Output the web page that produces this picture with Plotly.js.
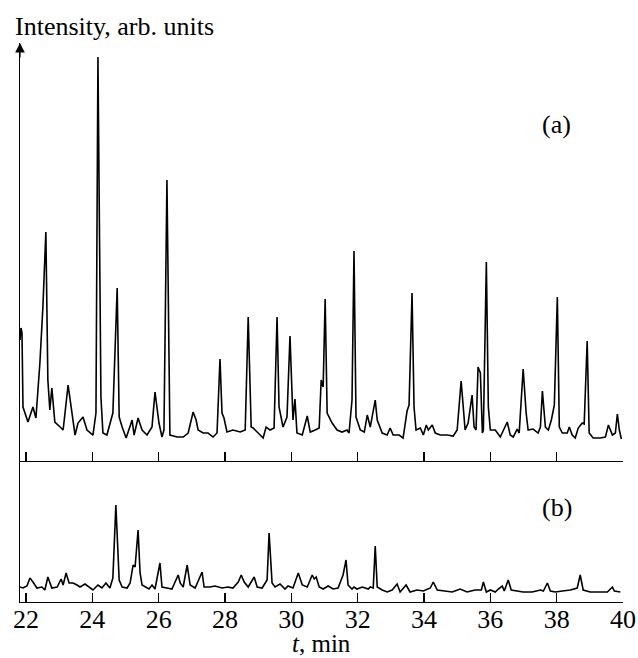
<!DOCTYPE html>
<html>
<head>
<meta charset="utf-8">
<script src="https://cdn.plot.ly/plotly-3.0.1.min.js"></script>
<style>html,body{margin:0;padding:0;background:#fff;}#chart{width:638px;height:658px;}</style>
</head>
<body>
<div id="chart"></div>
<script>
// Retention time (min) and intensity (arb. units) — trace (a)
const tA = [21.82,21.85,21.88,21.91,22.06,22.21,22.30,22.42,22.51,22.60,22.66,22.72,22.78,22.87,23.03,23.12,23.27,23.39,23.48,23.57,23.72,23.84,24.02,24.11,24.17,24.26,24.32,24.44,24.59,24.62,24.75,24.78,24.81,24.90,25.02,25.20,25.26,25.38,25.50,25.65,25.80,25.89,25.95,26.01,26.10,26.16,26.25,26.34,26.56,26.74,26.89,27.04,27.13,27.19,27.34,27.49,27.64,27.76,27.85,27.91,27.97,28.06,28.24,28.46,28.61,28.67,28.70,28.79,28.85,29.00,29.15,29.24,29.36,29.48,29.57,29.63,29.75,29.87,29.96,30.05,30.11,30.17,30.33,30.48,30.57,30.72,30.84,30.90,30.96,31.02,31.08,31.23,31.38,31.53,31.68,31.74,31.83,31.89,31.95,32.08,32.20,32.29,32.38,32.53,32.59,32.74,32.89,32.98,33.07,33.25,33.37,33.49,33.55,33.64,33.70,33.76,33.89,33.98,34.07,34.13,34.25,34.34,34.49,34.70,34.88,35.00,35.12,35.24,35.33,35.45,35.51,35.57,35.63,35.70,35.76,35.79,35.88,35.94,36.00,36.15,36.30,36.51,36.60,36.69,36.81,36.87,36.99,37.08,37.14,37.29,37.44,37.51,37.57,37.66,37.75,37.84,37.93,38.02,38.08,38.17,38.32,38.38,38.47,38.56,38.65,38.77,38.83,38.92,38.98,39.10,39.31,39.47,39.56,39.68,39.77,39.83,39.89,39.95];
const intensityA = [121,133,128,54,39,54,43,98,154,229,81,51,73,39,34,31,76,44,26,38,44,31,26,48,404,64,28,26,44,48,173,118,44,34,23,41,26,43,31,26,34,69,54,38,24,31,281,26,24,24,28,49,41,31,28,28,24,28,102,48,43,29,31,29,31,99,144,34,33,28,23,34,31,33,144,54,34,44,125,41,62,28,26,45,29,31,33,81,74,162,48,38,31,29,31,28,61,210,44,31,29,46,34,61,41,28,26,33,26,26,23,50,56,168,54,31,33,26,36,31,36,28,26,26,25,31,80,31,38,66,34,31,94,88,28,31,199,54,31,31,24,39,26,24,32,28,92,48,31,32,28,34,70,34,31,41,56,164,34,28,28,34,26,23,33,38,37,120,28,23,23,24,36,26,28,47,31,22];

// Trace (b)
const tB = [21.82,21.91,22.03,22.12,22.21,22.33,22.48,22.57,22.66,22.78,22.94,23.06,23.12,23.21,23.30,23.42,23.54,23.63,23.78,23.90,24.02,24.17,24.29,24.41,24.53,24.62,24.71,24.81,24.90,25.05,25.14,25.23,25.29,25.38,25.44,25.50,25.62,25.71,25.80,25.89,26.04,26.10,26.25,26.40,26.59,26.65,26.74,26.86,26.95,27.10,27.31,27.37,27.55,27.70,27.91,28.09,28.24,28.40,28.49,28.58,28.70,28.88,28.97,29.12,29.27,29.33,29.42,29.51,29.66,29.81,29.90,30.05,30.21,30.33,30.48,30.63,30.69,30.75,30.84,30.96,31.11,31.26,31.41,31.53,31.56,31.65,31.71,31.83,31.89,31.98,32.14,32.32,32.38,32.47,32.53,32.59,32.74,32.89,33.04,33.19,33.28,33.46,33.58,33.79,33.98,34.19,34.28,34.40,34.58,34.85,35.09,35.30,35.54,35.73,35.79,35.88,36.00,36.15,36.24,36.36,36.42,36.54,36.63,36.81,36.99,37.26,37.51,37.60,37.72,37.81,37.96,38.17,38.41,38.62,38.71,38.80,39.01,39.31,39.53,39.68,39.74,39.92];
const intensityB = [15,14,16,24,20,14,15,12,25,14,15,23,17,29,19,19,17,15,18,15,12,17,14,19,14,24,97,22,15,14,19,37,35,72,29,17,15,13,17,13,39,15,14,13,27,19,15,37,17,14,30,15,15,16,14,15,14,20,27,20,15,25,15,14,22,69,19,15,18,13,16,14,29,17,15,27,23,25,15,13,16,13,14,24,27,42,17,13,15,13,15,13,15,14,56,15,12,10,12,18,10,17,10,12,11,14,20,12,11,10,13,10,12,12,20,10,12,10,13,16,11,22,12,11,10,10,12,11,19,11,10,11,12,14,27,12,10,10,10,15,11,10];

const tickVals = [22,24,26,28,30,32,34,36,38,40];
const tickText = ['22','24','26','28','30','32','34','36','38','40'];
const labels = {y: 'Intensity, arb. units', x: '<i>t</i>, min', a: '(a)', b: '(b)'};

const FONT = 'Liberation Serif, Times New Roman, serif';
const FS = 26;
const xRange = [21.82, 40];
const splitFrac = 0.2522;

const data = [
  {x: tA, y: intensityA, xaxis: 'x2', yaxis: 'y2', type: 'scatter', mode: 'lines',
   line: {color: '#000', width: 1.6}, hoverinfo: 'skip'},
  {x: tB, y: intensityB, xaxis: 'x', yaxis: 'y', type: 'scatter', mode: 'lines',
   line: {color: '#000', width: 1.6}, hoverinfo: 'skip'}
];

const axisCommon = {showgrid: false, zeroline: false, showline: true, linecolor: '#000', linewidth: 1.2};

const layout = {
  width: 638, height: 658,
  margin: {l: 20, r: 15, t: 43, b: 56},
  paper_bgcolor: '#fff', plot_bgcolor: '#fff',
  showlegend: false,
  font: {family: FONT, size: FS, color: '#000'},
  xaxis: Object.assign({}, axisCommon, {
    range: xRange, anchor: 'y', tickmode: 'array', tickvals: tickVals, ticktext: tickText,
    ticks: 'inside', ticklen: 9, tickwidth: 1.2, tickcolor: '#000', ticklabelstandoff: -6,
    tickfont: {family: FONT, size: FS, color: '#000'}
  }),
  xaxis2: Object.assign({}, axisCommon, {
    range: xRange, anchor: 'y2', matches: 'x', tickmode: 'array', tickvals: tickVals,
    ticks: 'inside', ticklen: 9, tickwidth: 1.2, tickcolor: '#000', showticklabels: false
  }),
  yaxis: Object.assign({}, axisCommon, {
    domain: [0, splitFrac], range: [0, 141], showticklabels: false, ticks: ''
  }),
  yaxis2: Object.assign({}, axisCommon, {
    domain: [splitFrac, 1], range: [0, 418], showticklabels: false, ticks: ''
  }),
  annotations: [
    {xref: 'paper', yref: 'paper', x: 0, y: 1, ax: 0, ay: 16, axref: 'pixel', ayref: 'pixel',
     text: '', showarrow: true, arrowhead: 2, arrowsize: 1.6, arrowwidth: 1.2, arrowcolor: '#000', standoff: 0},
    {xref: 'paper', yref: 'paper', x: -0.012, y: 1.0304, xanchor: 'left', yanchor: 'middle',
     text: labels.y, showarrow: false, font: {family: FONT, size: FS, color: '#000'}},
    {xref: 'paper', yref: 'paper', x: 0.5, y: -0.074, xanchor: 'center', yanchor: 'middle', borderpad: 0,
     text: labels.x, showarrow: false, font: {family: FONT, size: 25, color: '#000'}},
    {xref: 'x2', yref: 'y2', x: 38.0, y: 337, xanchor: 'center', yanchor: 'middle',
     text: labels.a, showarrow: false, font: {family: FONT, size: FS, color: '#000'}},
    {xref: 'x', yref: 'y', x: 38.0, y: 95, xanchor: 'center', yanchor: 'middle',
     text: labels.b, showarrow: false, font: {family: FONT, size: FS, color: '#000'}}
  ]
};

Plotly.newPlot('chart', data, layout, {staticPlot: true, displayModeBar: false});
</script>
</body>
</html>
